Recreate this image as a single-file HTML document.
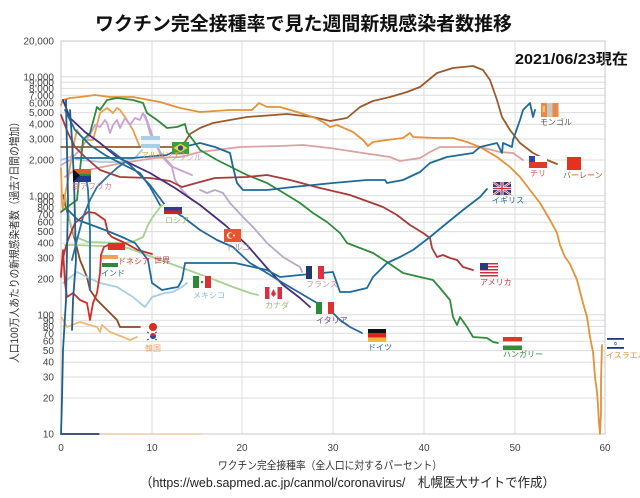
<!DOCTYPE html>
<html><head><meta charset="utf-8"><style>
html,body{margin:0;padding:0;background:#fff;}
svg{display:block;}
text{font-family:"Liberation Sans","Noto Sans CJK JP",sans-serif;}
</style></head><body>
<svg width="640" height="498" viewBox="0 0 640 498" xmlns="http://www.w3.org/2000/svg">
<rect width="640" height="498" fill="#fff"/>
<!-- title -->
<text x="95" y="30" font-size="19" font-weight="bold" fill="#111" textLength="417" lengthAdjust="spacingAndGlyphs">ワクチン完全接種率で見た週間新規感染者数推移</text>
<text x="515" y="64" font-size="15" font-weight="bold" fill="#111" textLength="113" lengthAdjust="spacingAndGlyphs">2021/06/23現在</text>

<!-- grid -->
<g stroke="#dcdcdc" stroke-width="1" fill="none">
<path d="M61 398H605M61 377H605M61 362.2H605M61 350.6H605M61 341.2H605M61 333.3H605M61 326.4H605M61 320.3H605M61 314.8H605
M61 279H605M61 258H605M61 243.2H605M61 231.6H605M61 222.2H605M61 214.3H605M61 207.4H605M61 201.3H605M61 195.8H605
M61 160H605M61 139H605M61 124.2H605M61 112.6H605M61 103.2H605M61 95.3H605M61 88.4H605M61 82.3H605M61 76.8H605"/>
<path d="M152 41V434M242 41V434M333 41V434M424 41V434M515 41V434"/>
</g>
<g stroke="#c8c8c8" stroke-width="1" fill="none">
<path d="M61 41H605V434H61Z"/>
</g>

<!-- y tick labels -->
<g font-size="10" fill="#444" text-anchor="end">
<text x="54" y="44.5">20,000</text>
<text x="54" y="80.3">10,000</text>
<text x="54" y="85.8">9,000</text>
<text x="54" y="91.9">8,000</text>
<text x="54" y="98.8">7,000</text>
<text x="54" y="106.7">6,000</text>
<text x="54" y="116.1">5,000</text>
<text x="54" y="127.7">4,000</text>
<text x="54" y="142.5">3,000</text>
<text x="54" y="163.5">2,000</text>
<text x="54" y="199.3">1,000</text>
<text x="54" y="204.8">900</text>
<text x="54" y="210.9">800</text>
<text x="54" y="217.8">700</text>
<text x="54" y="225.7">600</text>
<text x="54" y="235.1">500</text>
<text x="54" y="246.7">400</text>
<text x="54" y="261.5">300</text>
<text x="54" y="282.5">200</text>
<text x="54" y="318.3">100</text>
<text x="54" y="323.8">90</text>
<text x="54" y="329.9">80</text>
<text x="54" y="336.8">70</text>
<text x="54" y="344.7">60</text>
<text x="54" y="354.1">50</text>
<text x="54" y="365.7">40</text>
<text x="54" y="380.5">30</text>
<text x="54" y="401.5">20</text>
<text x="54" y="437.3">10</text>
</g>
<!-- x tick labels -->
<g font-size="10" fill="#444" text-anchor="middle">
<text x="61" y="451">0</text>
<text x="152" y="451">10</text>
<text x="242" y="451">20</text>
<text x="333" y="451">30</text>
<text x="424" y="451">40</text>
<text x="515" y="451">50</text>
<text x="605" y="451">60</text>
</g>

<!-- axis titles -->
<text x="218" y="469" font-size="11" fill="#333" textLength="224" lengthAdjust="spacingAndGlyphs">ワクチン完全接種率（全人口に対するパーセント）</text>
<text x="140" y="487" font-size="13" fill="#222" textLength="415" lengthAdjust="spacingAndGlyphs">（https://web.sapmed.ac.jp/canmol/coronavirus/　札幌医大サイトで作成）</text>
<text transform="translate(18,363) rotate(-90)" x="0" y="0" font-size="11" fill="#333" textLength="246" lengthAdjust="spacingAndGlyphs">人口100万人あたりの新規感染者数（過去7日間の増加）</text>

<!-- series -->
<g fill="none" stroke-width="1.8" stroke-linejoin="round" stroke-linecap="round">
<polyline stroke="#2d3a6e" points="61,434 100,434"/>
<polyline stroke="#ead2b0" points="100,434 201,434"/>
<polyline stroke="#f0b878" points="62,318 67,327 80,322 90,325 97,327 100,332 102,325 110,332 123,337 130,340 137,337"/>
<polyline stroke="#8b4a22" points="63,195 68,215 75,240 80,260 87,277 90,290 97,300 107,310 117,320 120,327 140,327"/>
<polyline stroke="#a6cde3" points="63,283 77,272 87,277 100,283 117,287 133,297 140,303 145,307 150,300 152,297 165,293 173,292 182,287 187,283"/>
<polyline stroke="#a6cde3" points="61,160 70,157 80,160 100,162 120,162 135,158 142,150"/>
<polyline stroke="#a8d08f" points="65,195 70,222 75,237 88,242 122,243 132,242 143,237 148,225 152,218 158,210 162,205"/>
<polyline stroke="#a8d08f" points="65,245 75,245 100,246 128,248 155,258 188,270 215,280 233,287 250,293 258,295"/>
<polyline stroke="#d32f2a" points="61,277 63,250 65,283 67,297 73,293 80,300 87,303 90,320 93,303 97,293 100,273 101,255 104,247 108,245"/>
<polyline stroke="#c0302c" points="61,275 62,262 65,250 68,240 75,223 82,217 88,212 95,213 105,220 108,233 112,237 125,243 138,250 152,254"/>
<polyline stroke="#e8a04a" points="61,168 62,200 63,210 65,195 68,180 73,147 77,130 80,135 85,140 93,140 97,125 100,113 107,108 113,113 117,108 120,110 125,117 133,130 137,140 140,147"/>
<polyline stroke="#c8a2d4" points="61,165 70,160 80,150 90,135 95,125 100,127 105,120 107,123 110,133 113,125 117,120 120,128 125,118 130,125 135,118 140,120 143,113 147,122 150,133 160,153 173,167 180,170 187,173 192,175"/>
<polyline stroke="#c8a2d4" points="145,115 155,143 165,160 172,167 175,180 182,190 192,200"/>
<polyline stroke="#b9a9c4" points="200,190 207,193 215,190 223,193 230,203 243,217 253,227 267,243 283,257 293,263 300,267 302,272"/>
<polyline stroke="#dba1a1" points="65,177 72,172 88,170 122,163 155,158 180,157 200,152 240,147 280,146 303,145 330,148 363,153 390,157 400,161 420,158 430,152 440,147 480,147 500,152 513,153 523,160"/>
<polyline stroke="#9a5a2c" points="61,147 175,147 185,142 190,134 200,128 213,123 247,117 287,114 313,117 330,121 347,118 360,107 373,101 390,97 407,92 420,87 437,73 453,68 473,66 483,70 490,80 497,100 502,117 510,130 520,143 533,153 547,160 557,164"/>
<polyline stroke="#e3923a" points="61,105 63,100 70,98 80,97 95,95 110,97 133,97 160,102 180,108 200,112 230,110 252,110 259,103 267,107 280,107 297,112 313,117 323,122 330,127 337,125 353,132 363,140 368,146 373,142 387,140 403,138 410,133 413,137 437,138 453,138 467,142 480,147 497,157 510,167 520,177 530,190 540,203 550,220 557,233 560,245 565,257 570,264 577,280 583,303 587,317 590,337 593,352 595,377 597,392 598,405 599,423 600,434 601,412 601,380 602,345"/>
<polyline stroke="#2f8a3b" points="61,212 70,205 77,200 80,170 83,140 90,133 97,107 100,110 107,100 117,98 133,100 143,103 147,113 157,120 167,128 177,127 185,124 187,132 193,140 200,150 217,160 233,168 247,175 267,183 287,195 300,203 313,213 327,222 340,233 347,243 360,248 373,253 387,262 403,273 420,277 433,280 440,288 450,300 453,317 457,325 460,317 467,327 473,337 487,338 493,342 498,343"/>
<polyline stroke="#a83a3a" points="61,115 68,133 75,147 85,157 100,170 120,177 150,178 170,181 182,187 200,182 215,178 247,177 267,175 290,180 320,188 350,195 383,207 397,215 410,225 423,233 430,238 432,248 437,257 443,255 450,258 457,260 463,267 473,270"/>
<polyline stroke="#4a2d7a" points="63,100 70,118 85,132 100,143 117,157 150,173 175,188 200,205 225,225 247,245 267,268 283,285 300,298 310,307"/>
<polyline stroke="#1e6a96" points="65,110 75,130 90,145 105,155 120,163 140,173 150,187 160,205"/>
<polyline stroke="#24679a" points="110,150 130,165 150,185 165,205 183,217 200,230 217,240 233,247 250,263 267,273 283,283 300,293 317,303 327,307 340,320 350,327 362,333"/>
<polyline stroke="#1d6b9a" points="68,210 78,220 105,230 122,237 135,243 148,260 152,283 162,290 172,288 178,287 182,280 185,263 235,263 267,270 280,277 300,275 333,272 340,292 350,292 367,288 373,277 387,263 400,257 413,250 430,237 447,223 463,210 480,197 487,189"/>
<polyline stroke="#1e6a96" points="75,158 100,158 133,158 167,155 183,147 200,143 215,147 230,153 233,167 237,183 243,190 267,190 293,187 333,183 367,180 385,180 387,183 403,180 420,172 430,163 447,157 473,153 480,147 497,143 502,153 503,143 512,147 513,140 520,120 523,110 530,103 533,117 535,110"/>
<polyline stroke="#1e5f8e" points="66,100 67,150 68,200 67,250 66,300 63,350 62,400 61,434"/>
<polyline stroke="#1e5f8e" points="70,110 72,140 74,180 75,220 76,260 73,300 72,330"/>
<polyline stroke="#2a70a0" points="72,260 77,240 83,217 90,200 97,187 107,177 117,168 125,162"/>
<polyline stroke="#2a70a0" points="85,170 88,190 90,230 90,290"/>
</g>

<!-- flags -->
<rect x="141" y="136" width="19" height="4" fill="#a9cfe8"/><rect x="141" y="140" width="19" height="4" fill="#f2f6fa"/><rect x="141" y="144" width="19" height="4" fill="#a9cfe8"/>
<rect x="172" y="142" width="17" height="12" fill="#3aa03a"/><polygon points="180.5,143.5 187.5,148 180.5,152.5 173.5,148" fill="#f2d33a"/><circle cx="180.5" cy="148" r="2.6" fill="#2a4a9a"/>
<rect x="73" y="169" width="18" height="6" fill="#e05a30"/><rect x="73" y="175" width="18" height="7" fill="#1f3c8c"/><rect x="73" y="174" width="18" height="2" fill="#2a8a3a"/><polygon points="73,169 80,175.5 73,182" fill="#111"/>
<rect x="164" y="204" width="18" height="3" fill="#f4f4f4"/><rect x="164" y="207" width="18" height="3.5" fill="#2a3c9a"/><rect x="164" y="210.5" width="18" height="3.5" fill="#d02020"/>
<rect x="224" y="229" width="17" height="13" fill="#e8552a"/><circle cx="230" cy="235.5" r="3.2" fill="#fff"/><circle cx="231" cy="235.5" r="2.5" fill="#e8552a"/><circle cx="234" cy="235.5" r="1" fill="#fff"/>
<rect x="108" y="243" width="17" height="7" fill="#e0302a"/>
<rect x="102" y="255" width="16" height="4" fill="#f0a050"/><rect x="102" y="259" width="16" height="4" fill="#fff"/><rect x="102" y="263" width="16" height="4" fill="#2a8a3a"/>
<rect x="193" y="276" width="6" height="12" fill="#2a8a3a"/><rect x="199" y="276" width="6" height="12" fill="#fff"/><rect x="205" y="276" width="6" height="12" fill="#d83030"/><circle cx="202" cy="282" r="1.3" fill="#8a6a3a"/>
<rect x="265" y="287" width="4.5" height="12" fill="#d83040"/><rect x="269.5" y="287" width="8" height="12" fill="#fff"/><rect x="277.5" y="287" width="4.5" height="12" fill="#d83040"/><polygon points="273.5,289 276,294 273.5,297 271,294" fill="#d83040"/>
<rect x="306" y="266" width="6" height="13" fill="#1f3a6a"/><rect x="312" y="266" width="6" height="13" fill="#fff"/><rect x="318" y="266" width="6" height="13" fill="#e03040"/>
<rect x="316" y="302" width="6" height="12" fill="#2a8a3a"/><rect x="322" y="302" width="6" height="12" fill="#fff"/><rect x="328" y="302" width="6" height="12" fill="#e03030"/>
<rect x="368" y="329" width="18" height="4.3" fill="#111"/><rect x="368" y="333.3" width="18" height="4.3" fill="#dd2020"/><rect x="368" y="337.6" width="18" height="4.4" fill="#f5b53a"/>
<circle cx="153" cy="327" r="4" fill="#e02a20"/>
<circle cx="153" cy="336" r="3" fill="#c03040"/><path d="M150 336a3 3 0 0 0 6 0z" fill="#2a4aa0"/>
<g stroke="#333" stroke-width="0.8"><path d="M147 332l2 1M157 332l-2 1M147 340l2-1M157 340l-2-1"/></g>
<g><rect x="480" y="263" width="18" height="14" fill="#fff"/>
<rect x="480" y="263" width="18" height="1.5" fill="#c83040"/><rect x="480" y="266" width="18" height="1.5" fill="#c83040"/><rect x="480" y="269" width="18" height="1.5" fill="#c83040"/><rect x="480" y="272" width="18" height="1.5" fill="#c83040"/><rect x="480" y="275" width="18" height="1.5" fill="#c83040"/>
<rect x="480" y="263" width="8" height="7" fill="#2a3a7a"/></g>
<rect x="503" y="337" width="19" height="4.5" fill="#d83a2a"/><rect x="503" y="341.5" width="19" height="4" fill="#fff"/><rect x="503" y="345.5" width="19" height="4.5" fill="#3a8a3a"/>
<rect x="607" y="338" width="17" height="11" fill="#fff"/><rect x="607" y="338" width="17" height="1.8" fill="#1f3a7a"/><rect x="607" y="347" width="17" height="1.8" fill="#1f3a7a"/><text x="615.5" y="345.5" font-size="5" fill="#1f3a7a" text-anchor="middle">✡</text>
<rect x="493" y="182" width="18" height="13" fill="#2a3a7a"/>
<g stroke="#fff" stroke-width="2.2"><path d="M493 182L511 195M511 182L493 195"/></g>
<g stroke="#c83040" stroke-width="0.8"><path d="M493 182L511 195M511 182L493 195"/></g>
<rect x="493" y="187" width="18" height="3" fill="#fff"/><rect x="500.5" y="182" width="3" height="13" fill="#fff"/>
<rect x="493" y="187.8" width="18" height="1.4" fill="#c83040"/><rect x="501.3" y="182" width="1.4" height="13" fill="#c83040"/>
<rect x="529" y="156" width="18" height="6" fill="#fff"/><rect x="529" y="156" width="6" height="6" fill="#2a4aa0"/><rect x="529" y="162" width="18" height="6" fill="#e03a30"/>
<rect x="567" y="157" width="14" height="13" fill="#e83020"/>
<rect x="541" y="103" width="6" height="14" fill="#e88a4a"/><rect x="547" y="103" width="5.5" height="14" fill="#c8c8c8"/><rect x="552.5" y="103" width="6" height="14" fill="#e88a4a"/><rect x="542.5" y="106" width="2.5" height="6" fill="#f4c060"/>

<!-- country labels -->
<g font-size="8">
<text x="141" y="158" fill="#e8a04a">アルゼンチン</text>
<text x="170" y="160" fill="#c8a2d4">ブラジル</text>
<text x="72" y="189" fill="#e07a90">南アフリカ</text>
<text x="165" y="223" fill="#8cc070">ロシア</text>
<text x="226" y="250" fill="#9a90a0">トルコ</text>
<text x="118" y="264" fill="#d03a30">ドネシア</text>
<text x="154" y="263" fill="#b03a40">世界</text>
<text x="101" y="276" fill="#2a6a8a">インド</text>
<text x="193" y="298" fill="#8ab8d8">メキシコ</text>
<text x="265" y="308" fill="#8cc070">カナダ</text>
<text x="306" y="287" fill="#c890a0">フランス</text>
<text x="316" y="323" fill="#6a4a8a">イタリア</text>
<text x="368" y="350" fill="#2a6a9a">ドイツ</text>
<text x="145" y="351" fill="#f0a060">韓国</text>
<text x="480" y="285" fill="#c03a40">アメリカ</text>
<text x="503" y="357" fill="#2f8a3b">ハンガリー</text>
<text x="606" y="358" fill="#e3923a">イスラエル</text>
<text x="492" y="203" fill="#1e6a96">イギリス</text>
<text x="530" y="176" fill="#e05050">チリ</text>
<text x="563" y="178" fill="#9a5a2c">バーレーン</text>
<text x="540" y="125" fill="#555">モンゴル</text>
</g>
</svg>
</body></html>
